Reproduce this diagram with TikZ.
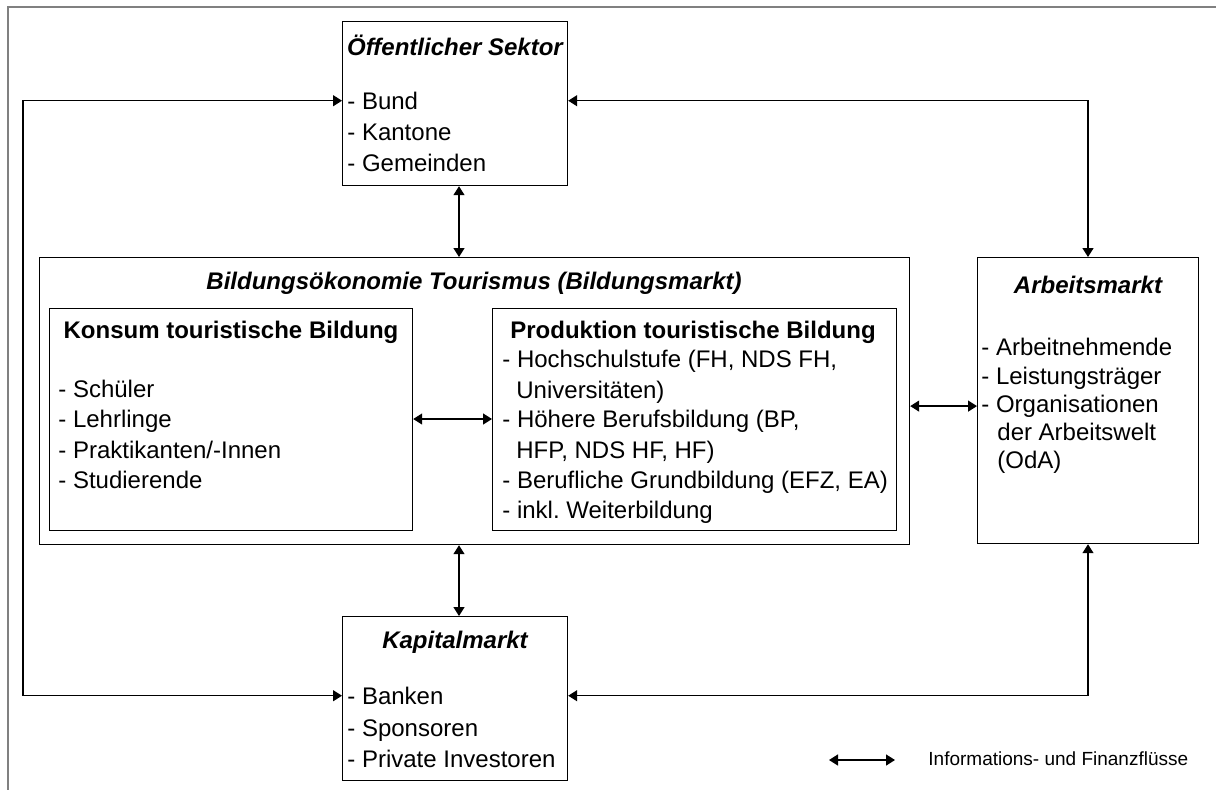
\documentclass[tikz,border=0pt]{standalone}
\usepackage{fontspec}
\setmainfont{Liberation Sans}
\usetikzlibrary{arrows.meta}

\tikzset{
  box/.style={draw, line width=0.6pt, anchor=north west, inner sep=0pt},
  head/.style={inner sep=0pt, font=\fontsize{12pt}{14pt}\selectfont\bfseries\itshape},
  subhead/.style={inner sep=0pt, font=\fontsize{12pt}{14pt}\selectfont\bfseries},
  item/.style={anchor=mid west, inner sep=0pt, font=\fontsize{12pt}{14pt}\selectfont},
  tip/.tip={Triangle[length=4.5pt,width=5.5pt]},
  flow/.style={tip-tip, line width=0.7pt}
}

\begin{document}
\begin{tikzpicture}[x=0.5pt, y=-0.5pt]
\useasboundingbox (0,0) rectangle (1216,789);
\clip (0,0) rectangle (1216,789);

% frame
\draw[gray, line width=0.8pt] (8,800) -- (8,7) -- (1230,7);

% boxes
\node[box, minimum width=112.5pt, minimum height=82pt] (oeff) at (342,21) {};
\node[box, minimum width=435pt, minimum height=143.5pt] (bild) at (39,257) {};
\node[box, minimum width=181.5pt, minimum height=111pt] (konsum) at (49,308) {};
\node[box, minimum width=202pt, minimum height=111pt] (prod) at (492,308) {};
\node[box, minimum width=110.5pt, minimum height=143pt] (arbeit) at (977,257) {};
\node[box, minimum width=112.5pt, minimum height=82pt] (kapital) at (342,616) {};

% titles
\node[head] (oeffT) at (455,45) {Öffentlicher Sektor};
\node[head] (bildT) at (474,283) {Bildungsökonomie Tourismus (Bildungsmarkt)};
\node[subhead] (konsumT) at (231,332) {Konsum touristische Bildung};
\node[subhead] (prodT) at (693,332) {Produktion touristische Bildung};
\node[head] (arbeitT) at (1088,285) {Arbeitsmarkt};
\node[head] (kapitalT) at (455,642) {Kapitalmarkt};

% lists
\node[item] (bund) at (347,104) {- Bund};
\node[item] (kantone) at (347,135) {- Kantone};
\node[item] (gemeinden) at (347,166) {- Gemeinden};

\foreach \t [count=\i] in {Schüler, Lehrlinge, Praktikanten/-Innen, Studierende}
  \node[item] (k\i) at (58,{392+30.4*(\i-1)}) {- \t};

\node[item] (p1) at (502,362) {- Hochschulstufe (FH, NDS FH,};
\node[item] (p2) at (516,393) {Universitäten)};
\node[item] (p3) at (502,422) {- Höhere Berufsbildung (BP,};
\node[item] (p4) at (516,453) {HFP, NDS HF, HF)};
\node[item] (p5) at (502,483) {- Berufliche Grundbildung (EFZ, EA)};
\node[item] (p6) at (502,513) {- inkl.\ Weiterbildung};

\node[item] (a1) at (981,350) {- Arbeitnehmende};
\node[item] (a2) at (981,379) {- Leistungsträger};
\node[item] (a3) at (981,407) {- Organisationen};
\node[item] (a4) at (997,435) {der Arbeitswelt};
\node[item] (a5) at (997,463) {(OdA)};

\node[item] (banken) at (347,699) {- Banken};
\node[item] (sponsoren) at (347,731) {- Sponsoren};
\node[item] (investoren) at (347,762) {- Private Investoren};

% flows
\coordinate (lft) at (23,0);
\coordinate (rgt) at (1088,0);
\coordinate (axis) at (459,0);
\coordinate (kp) at (0,419);

\draw[flow] (oeff.south -| axis) -- (bild.north -| axis);
\draw[flow] (bild.south -| axis) -- (kapital.north -| axis);
\draw[flow] (oeff.west |- bund) -- (bund -| lft) |- (kapital.west |- banken);
\draw[flow] (oeff.east |- bund) -- (bund -| rgt) -- (arbeit.north -| rgt);
\draw[flow] (arbeit.south -| rgt) |- (kapital.east |- banken);
\draw[flow] (konsum.east |- kp) -- (prod.west |- kp);
\draw[flow] (bild.east |- a3) -- (arbeit.west |- a3);

% legend
\coordinate (legA) at (829,760);
\coordinate (legB) at (895,760);
\node[item, font=\fontsize{9.5pt}{11pt}\selectfont] (legT) at (928,760) {Informations- und Finanzflüsse};
\draw[flow] (legA) -- (legB);

\end{tikzpicture}
\end{document}
